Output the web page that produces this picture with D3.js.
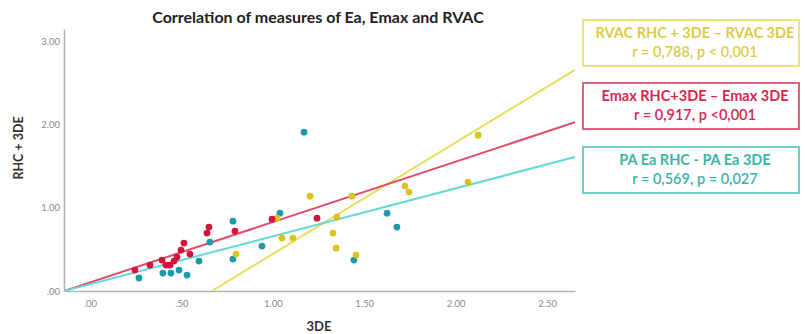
<!DOCTYPE html>
<html>
<head>
<meta charset="utf-8">
<script src="https://cdn.jsdelivr.net/npm/d3@7"></script>
<style>
  html, body { margin: 0; padding: 0; background: #fff; }
  svg { display: block; }
</style>
</head>
<body>
<svg id="chart" width="805" height="334"></svg>
<script>
// 3DE vs RHC measurements for each parameter: [3DE, RHC + 3DE]
const emaxPoints = [
  [0.246, 0.252], [0.328, 0.312], [0.394, 0.372], [0.416, 0.312], [0.438, 0.312],
  [0.460, 0.360], [0.476, 0.408], [0.498, 0.492], [0.514, 0.576], [0.547, 0.444],
  [0.640, 0.696], [0.651, 0.768], [0.793, 0.720], [0.996, 0.864], [1.242, 0.876]
];
const paEaPoints = [
  [0.268, 0.156], [0.399, 0.216], [0.443, 0.216], [0.487, 0.252], [0.531, 0.192],
  [0.596, 0.360], [0.656, 0.588], [0.782, 0.384], [0.782, 0.840], [0.941, 0.540],
  [1.039, 0.936], [1.171, 1.909], [1.444, 0.372], [1.625, 0.936], [1.679, 0.768]
];
const rvacPoints = [
  [0.799, 0.444], [1.023, 0.876], [1.050, 0.636], [1.110, 0.636], [1.204, 1.140],
  [1.329, 0.696], [1.346, 0.516], [1.351, 0.888], [1.433, 1.140], [1.455, 0.432],
  [1.723, 1.261], [1.745, 1.189], [2.068, 1.309], [2.123, 1.873]
];

// Linear fit lines: [intercept, slope]
const emaxFit = [0.103, 0.726];
const paEaFit = [0.082, 0.576];
const rvacFit = [-0.893, 1.339];

const xTicks = [0, 0.5, 1, 1.5, 2, 2.5];
const yTicks = [0, 1, 2, 3];

const titleText = "Correlation of measures of Ea, Emax and RVAC";
const xLabel = "3DE";
const yLabel = "RHC + 3DE";

const legendTitles = ["RVAC RHC + 3DE \u2013 RVAC 3DE", "Emax RHC+3DE \u2013 Emax 3DE", "PA Ea RHC - PA Ea 3DE"];
const legendStats = ["r = 0,788, p < 0,001", "r = 0,917, p <0,001", "r = 0,569, p = 0,027"];

const series = [
  { pts: rvacPoints, fit: rvacFit, dot: "#dcc21a", line: "#e9dc5a", box: "#ebe070", text: "#dccb48" },
  { pts: emaxPoints, fit: emaxFit, dot: "#d4143c", line: "#e24a66", box: "#e2506e", text: "#d8264e" },
  { pts: paEaPoints, fit: paEaFit, dot: "#1b9aab", line: "#62d8d8", box: "#5ccac2", text: "#3ab5a8" }
];

const svg = d3.select("#chart");
const font = "Lato, 'Open Sans', sans-serif";

const x = d3.scaleLinear().domain([-0.142, 2.653]).range([64, 575]);
const y = d3.scaleLinear().domain([0, 3.15]).range([291, 29]);

// Title
svg.append("text")
  .attr("x", 318).attr("y", 23)
  .attr("text-anchor", "middle")
  .attr("font-family", font).attr("font-weight", "bold")
  .attr("font-size", 16).attr("fill", "#222")
  .text(titleText);

// Axes
const xAxis = d3.axisBottom(x).tickValues(xTicks).tickSize(0).tickPadding(9)
  .tickFormat(d => d3.format(".2f")(d).replace(/^0/, ""));
const yAxis = d3.axisLeft(y).tickValues(yTicks).tickSize(0).tickPadding(4)
  .tickFormat(d => d3.format(".2f")(d).replace(/^0/, ""));

const gx = svg.append("g").attr("transform", "translate(0,291)").call(xAxis);
const gy = svg.append("g").attr("transform", "translate(64,0)").call(yAxis);
[gx, gy].forEach(g => {
  g.select(".domain").attr("stroke", "#b4b4b4").attr("stroke-width", 1.6);
  g.selectAll("text").attr("font-family", font).attr("font-size", 9.5).attr("fill", "#8a8a8a");
});

// Axis labels
svg.append("text")
  .attr("x", 319).attr("y", 331)
  .attr("text-anchor", "middle")
  .attr("font-family", font).attr("font-weight", "bold")
  .attr("font-size", 13).attr("fill", "#333")
  .text(xLabel);
svg.append("text")
  .attr("transform", "translate(23,148) rotate(-90)")
  .attr("text-anchor", "middle")
  .attr("font-family", font).attr("font-weight", "bold")
  .attr("font-size", 12.5).attr("fill", "#333")
  .text(yLabel);

// Clip to plotting area
svg.append("clipPath").attr("id", "plot")
  .append("rect").attr("x", 64).attr("y", 29).attr("width", 511).attr("height", 262);

// Fit lines
const [x0, x1] = x.domain();
const fitG = svg.append("g").attr("clip-path", "url(#plot)");
series.forEach(s => {
  const [a, b] = s.fit;
  const xs = Math.max(x0, -a / b);
  fitG.append("line")
    .attr("x1", x(xs)).attr("y1", y(a + b * xs))
    .attr("x2", x(x1)).attr("y2", y(a + b * x1))
    .attr("stroke", s.line).attr("stroke-width", 2);
});

// Points
const drawOrder = [series[2], series[0], series[1]];
drawOrder.forEach(s => {
  svg.append("g").selectAll("circle").data(s.pts).join("circle")
    .attr("cx", d => x(d[0])).attr("cy", d => y(d[1]))
    .attr("r", 3.4).attr("fill", s.dot);
});

// Legend boxes
const boxTops = [20, 83, 147];
series.forEach((s, i) => {
  const g = svg.append("g").attr("transform", `translate(583,${boxTops[i]})`);
  g.append("rect").attr("width", 216).attr("height", 46)
    .attr("fill", "#fff").attr("stroke", s.box).attr("stroke-width", 1.8);
  g.append("text").attr("x", 112).attr("y", 18)
    .attr("text-anchor", "middle").attr("font-family", font).attr("font-weight", "bold")
    .attr("font-size", 14.5).attr("fill", s.text).text(legendTitles[i]);
  g.append("text").attr("x", 112).attr("y", 37)
    .attr("text-anchor", "middle").attr("font-family", font).attr("font-weight", "600")
    .attr("font-size", 14.5).attr("fill", s.text).text(legendStats[i]);
});
</script>
</body>
</html>
